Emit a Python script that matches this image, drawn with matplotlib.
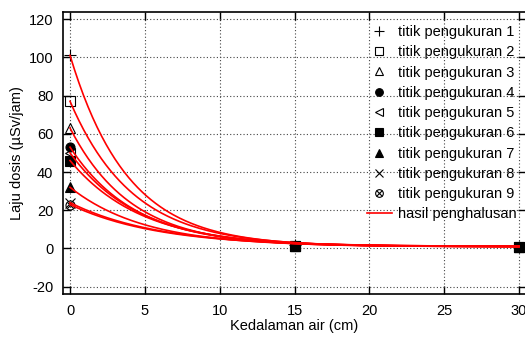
import numpy as np
import matplotlib.pyplot as plt
from matplotlib.legend_handler import HandlerTuple

plt.rcParams['font.family'] = ['Liberation Sans', 'DejaVu Sans']
plt.rcParams['axes.unicode_minus'] = False

# kedalaman air (cm) dan laju dosis terukur tiap titik pengukuran
depth = [0, 15, 30]
dose = [
    [101, 1.6, 0.7],
    [77, 1.5, 0.7],
    [63, 1.5, 0.7],
    [53, 1.4, 0.7],
    [50, 1.4, 0.7],
    [46, 1.4, 0.7],
    [32, 1.3, 0.7],
    [24, 1.2, 0.7],
    [23, 1.2, 0.7],
]
# parameter penghalusan eksponensial y = a*exp(-b*x) + c
fit_a = [100, 76, 62, 52, 49, 45, 31, 23, 22]
fit_b = [0.26, 0.24, 0.245, 0.23, 0.22, 0.21, 0.2, 0.17, 0.17]
fit_c = [1.0, 1.0, 1.0, 1.0, 1.0, 1.0, 1.0, 1.0, 1.0]

labels = ["titik pengukuran %d" % (i + 1) for i in range(9)]
markers = ['+', 's', '^', 'o', '<', 's', '^', 'x', 'o']
filled = [True, False, False, True, False, True, True, True, False]

fig = plt.figure(figsize=(5.25, 3.42), dpi=100)
ax = fig.add_axes([63 / 525, 1 - 294 / 342, 463 / 525, 282 / 342])

handles = []
for i in range(9):
    mfc = 'black' if filled[i] else 'none'
    ms = 8 if markers[i] == '+' else 6.5
    h, = ax.plot(depth, dose[i], linestyle='none', marker=markers[i], color='black',
                 mfc=mfc, mec='black', ms=ms, mew=0.8, zorder=3)
    if i == 8:
        # lingkaran dengan silang
        h2, = ax.plot(depth, dose[i], linestyle='none', marker='x', color='black',
                      ms=4.5, mew=0.8, zorder=3)
        handles.append((h, h2))
    else:
        handles.append(h)

xs = np.linspace(0, 30, 300)
for i in range(9):
    ys = fit_a[i] * np.exp(-fit_b[i] * xs) + fit_c[i]
    line, = ax.plot(xs, ys, color='#ff0000', lw=1.2, zorder=4)
handles.append(line)

ax.set_xlim(-0.47, 30.47)
ax.set_ylim(-23.8, 123.7)
ax.set_xticks(range(0, 31, 5))
ax.set_yticks(range(-20, 121, 20))
ax.tick_params(direction='in', length=6, width=1, top=True, right=True,
               labelsize=10.5, pad=7)
ax.grid(True, linestyle=(0, (1, 2)), color='#444444', lw=0.8)
for s in ax.spines.values():
    s.set_linewidth(1.2)

ax.set_xlabel("Kedalaman air (cm)", fontsize=10.5, labelpad=1)
ax.set_ylabel("Laju dosis (µSv/jam)", fontsize=10.5, labelpad=3)

leg = ax.legend(handles, labels + ["hasil penghalusan"], loc='upper left',
                bbox_to_anchor=(367 / 525, 1 - 25 / 342), bbox_transform=fig.transFigure,
                frameon=False, fontsize=10.5, labelspacing=0.43, handlelength=1.7,
                handletextpad=0.45, borderpad=0, borderaxespad=0, markerscale=0.85,
                handler_map={tuple: HandlerTuple(ndivide=1, pad=0)})

fig.savefig("out.png", dpi=100)
